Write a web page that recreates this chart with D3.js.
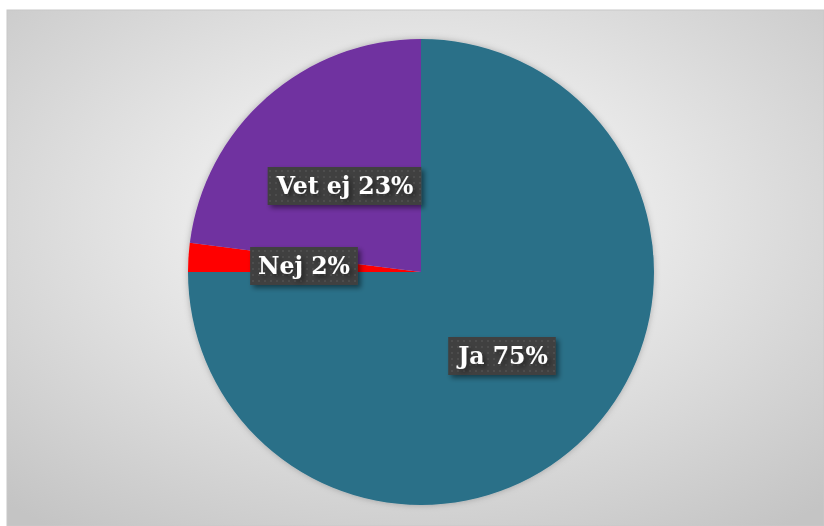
<!DOCTYPE html>
<html>
<head>
<meta charset="utf-8">
<script src="https://cdn.jsdelivr.net/npm/d3@7"></script>
<style>
  body { margin: 0; background: #fff; }
  svg { display: block; }
</style>
</head>
<body>
<svg id="chart" width="824" height="526"></svg>
<script>
'use strict';

const categories = ['Ja', 'Nej', 'Vet ej'];
const shares = [75, 2, 23];
const colors = ['#2a6f88', '#ff0000', '#7030a0'];

const svg = d3.select('#chart');
const defs = svg.append('defs');

// background gradient
const bg = defs.append('radialGradient').attr('id', 'bg')
    .attr('cx', '0.5').attr('cy', '0.4').attr('r', '0.75');
bg.append('stop').attr('offset', '0').attr('stop-color', '#ffffff');
bg.append('stop').attr('offset', '1').attr('stop-color', '#c4c4c4');

// dotted label texture
const pat = defs.append('pattern').attr('id', 'dots')
    .attr('width', 6).attr('height', 6).attr('patternUnits', 'userSpaceOnUse');
pat.append('rect').attr('width', 6).attr('height', 6).attr('fill', '#404040');
pat.append('rect').attr('x', 2).attr('y', 2).attr('width', 2).attr('height', 2).attr('fill', '#4e4e4e');

const shadow = defs.append('filter').attr('id', 'shadow')
    .attr('x', '-20%').attr('y', '-20%').attr('width', '140%').attr('height', '140%');
shadow.append('feDropShadow').attr('dx', 3).attr('dy', 3).attr('stdDeviation', 2.5)
    .attr('flood-color', '#000').attr('flood-opacity', 0.45);

const pieShadow = defs.append('filter').attr('id', 'pieShadow')
    .attr('x', '-10%').attr('y', '-10%').attr('width', '120%').attr('height', '120%');
pieShadow.append('feDropShadow').attr('dx', 0).attr('dy', 0).attr('stdDeviation', 3)
    .attr('flood-color', '#000').attr('flood-opacity', 0.25);

svg.append('rect')
    .attr('x', 7).attr('y', 10).attr('width', 817).attr('height', 516)
    .attr('fill', 'url(#bg)')
    .attr('stroke', '#c8c8c8').attr('stroke-width', 1);

const cx = 421, cy = 272, radius = 233;

const pie = d3.pie().sort(null).value(function(d) { return d; });
const arcs = pie(shares);
const arc = d3.arc().innerRadius(0).outerRadius(radius);

const g = svg.append('g').attr('transform', 'translate(' + cx + ',' + cy + ')');

g.append('g').attr('filter', 'url(#pieShadow)')
    .selectAll('path')
    .data(arcs)
    .enter().append('path')
    .attr('d', arc)
    .attr('fill', function(d, i) { return colors[i]; });

// label positions relative to the centre (box centres)
const labelPos = [[82, 84], [-117, -6], [-76, -86]];

const labels = g.selectAll('.lbl')
    .data(arcs)
    .enter().append('g')
    .attr('class', 'lbl')
    .attr('transform', function(d, i) { return 'translate(' + labelPos[i][0] + ',' + labelPos[i][1] + ')'; });

labels.append('text')
    .attr('text-anchor', 'middle')
    .attr('dy', '0.36em')
    .attr('fill', '#fff')
    .style('font-family', '"DejaVu Serif", serif')
    .style('font-weight', 'bold')
    .style('font-size', '23.5px')
    .text(function(d, i) { return categories[i] + ' ' + shares[i] + '%'; });

labels.each(function() {
    const grp = d3.select(this);
    const bb = grp.select('text').node().getBBox();
    grp.insert('rect', 'text')
        .attr('x', bb.x - 8).attr('y', -19)
        .attr('width', bb.width + 16).attr('height', 38)
        .attr('fill', 'url(#dots)')
        .attr('filter', 'url(#shadow)');
    grp.select('text').attr('filter', 'url(#shadow)');
});
</script>
</body>
</html>
